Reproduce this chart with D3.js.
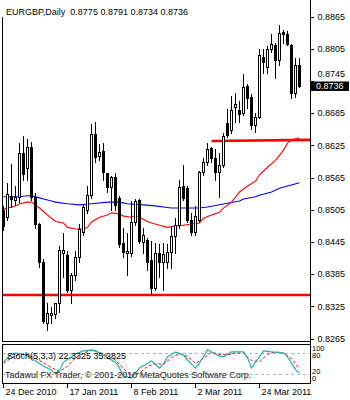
<!DOCTYPE html>
<html><head><meta charset="utf-8">
<script src="https://cdn.jsdelivr.net/npm/d3@7"></script>
<style>html,body{margin:0;padding:0;background:#fff;}svg{display:block;font-family:"Liberation Sans",Arial,sans-serif;}</style>
</head><body><svg id="c" width="350" height="400"></svg>
<script>
const symbolTitle = "EURGBP,Daily  0.8775 0.8791 0.8734 0.8736";
const opens = [0.8505,0.8492,0.8532,0.8524,0.8530,0.8612,0.8584,0.8623,0.8530,0.8479,
0.8409,0.8295,0.8310,0.8312,0.8332,0.8425,0.8422,0.8356,0.8384,0.8418,
0.8464,0.8505,0.8534,0.8647,0.8606,0.8616,0.8574,0.8548,0.8567,0.8528,
0.8444,0.8425,0.8425,0.8483,0.8524,0.8446,0.8449,0.8412,0.8360,0.8425,
0.8409,0.8409,0.8427,0.8457,0.8477,0.8550,0.8546,0.8487,0.8464,0.8487,
0.8576,0.8595,0.8621,0.8602,0.8576,0.8589,0.8667,0.8655,0.8697,0.8692,
0.8686,0.8736,0.8716,0.8664,0.8678,0.8791,0.8772,0.8805,0.8813,0.8785,
0.8837,0.8833,0.8813,0.8723,0.8775];
const highs = [0.8515,0.8558,0.8593,0.8552,0.8632,0.8645,0.8640,0.8634,0.8539,0.8483,
0.8416,0.8334,0.8327,0.8334,0.8440,0.8464,0.8431,0.8389,0.8431,0.8481,
0.8518,0.8552,0.8667,0.8671,0.8630,0.8632,0.8576,0.8571,0.8576,0.8534,
0.8474,0.8464,0.8524,0.8528,0.8528,0.8474,0.8455,0.8449,0.8446,0.8444,
0.8446,0.8444,0.8477,0.8492,0.8563,0.8591,0.8552,0.8502,0.8515,0.8580,
0.8604,0.8632,0.8625,0.8621,0.8614,0.8651,0.8695,0.8720,0.8725,0.8710,
0.8761,0.8742,0.8723,0.8688,0.8807,0.8807,0.8813,0.8835,0.8818,0.8852,
0.8843,0.8841,0.8817,0.8791,0.8791];
const lows = [0.8468,0.8487,0.8511,0.8515,0.8520,0.8561,0.8561,0.8524,0.8472,0.8399,
0.8295,0.8282,0.8295,0.8304,0.8315,0.8381,0.8352,0.8332,0.8375,0.8409,
0.8459,0.8500,0.8528,0.8595,0.8599,0.8561,0.8539,0.8505,0.8505,0.8436,
0.8418,0.8384,0.8420,0.8477,0.8444,0.8425,0.8394,0.8350,0.8356,0.8381,
0.8356,0.8397,0.8397,0.8425,0.8472,0.8524,0.8483,0.8459,0.8459,0.8483,
0.8571,0.8589,0.8595,0.8561,0.8530,0.8586,0.8641,0.8649,0.8669,0.8669,
0.8682,0.8695,0.8657,0.8651,0.8677,0.8761,0.8761,0.8800,0.8751,0.8776,
0.8817,0.8813,0.8714,0.8716,0.8734];
const closes = [0.8476,0.8535,0.8526,0.8530,0.8612,0.8572,0.8623,0.8530,0.8479,0.8409,
0.8299,0.8313,0.8313,0.8332,0.8431,0.8431,0.8356,0.8384,0.8418,0.8470,
0.8511,0.8534,0.8647,0.8604,0.8614,0.8576,0.8548,0.8567,0.8515,0.8442,
0.8427,0.8429,0.8483,0.8522,0.8448,0.8459,0.8409,0.8360,0.8425,0.8409,
0.8423,0.8427,0.8457,0.8477,0.8548,0.8528,0.8487,0.8464,0.8494,0.8576,
0.8595,0.8619,0.8602,0.8576,0.8589,0.8643,0.8645,0.8692,0.8703,0.8684,
0.8735,0.8714,0.8664,0.8678,0.8794,0.8781,0.8805,0.8815,0.8785,0.8835,
0.8833,0.8815,0.8723,0.8776,0.8736];

const redMaBars = [0,1,3,4,6,7,9,11,13,15,16,18,20,21,22,24,26,27,29,30,32,33,34,36,37,39,41,43,45,47,49,50,52,54,55,57,59,61,63,64,66,68,70,71,72,74];
const redMaValues = [0.8507,0.8509,0.8513,0.8517,0.8520,0.8520,0.8509,0.8496,0.8484,0.8481,0.8473,0.8470,0.8470,0.8473,0.8483,0.8492,0.8496,0.8500,0.8498,0.8494,0.8492,0.8496,0.8492,0.8484,0.8481,0.8477,0.8473,0.8475,0.8477,0.8479,0.8481,0.8490,0.8496,0.8501,0.8509,0.8520,0.8539,0.8550,0.8559,0.8571,0.8585,0.8598,0.8617,0.8630,0.8636,0.8640];
const blueMaBars = [0,4,6,7,9,10,12,13,16,19,22,26,29,31,35,38,40,42,49,51,54,56,59,60,63,64,67,69,71,74];
const blueMaValues = [0.8530,0.8530,0.8532,0.8532,0.8528,0.8526,0.8522,0.8520,0.8517,0.8515,0.8517,0.8520,0.8520,0.8517,0.8515,0.8513,0.8511,0.8509,0.8509,0.8511,0.8515,0.8518,0.8522,0.8526,0.8530,0.8533,0.8539,0.8546,0.8550,0.8556];

const supportLevel = 0.8347;
const trendBars = [52, 76.75];
const trendValues = [0.8634, 0.8636];

const stochKBars = [0,1,2,3,5,7,8,10,12,13,14,15,17,18,20,22,23,25,26,28,29,30,32,33,34,36,37,39,40,41,43,45,46,48,49,51,52,54,55,57,60,61,62,63,65,67,70,71,72,73,74];
const stochK = [54,66,77,80,77,66,57,43,31,20,31,54,69,77,86,89,86,74,66,54,37,14,9,23,37,51,57,37,49,69,83,74,60,37,51,89,83,71,69,83,83,66,37,54,86,83,80,69,51,32.5,22.3325];
const stochDBars = [0,2,4,6,8,10,12,14,16,18,20,22,24,26,28,30,32,34,36,38,40,42,44,46,48,50,52,54,56,58,60,62,64,66,68,70,72,74];
const stochD = [50,66,76,75,65,52,38,27,42,66,80,87,82,72,60,35,16,23,42,50,47,67,78,70,50,65,82,76,74,80,80,58,55,76,83,80,64,35.2825];
const stochLevels = [20, 80];
const stochLabels = ["100","80","20","0"];
const stochLabelValues = [100,80,20,0];
const stochTitle = "Stoch(5,3,3) 22.3325 35.2825";
const copyright = "Tadawul FX Trader, \u00a9 2001-2010 MetaQuotes Software Corp.";

const priceTicks = [0.8265,0.8325,0.8385,0.8445,0.8505,0.8565,0.8625,0.8685,0.8745,0.8805,0.8865];
const dateBars = [0,16,32,48,64];
const dateLabels = ["24 Dec 2010","17 Jan 2011","8 Feb 2011","2 Mar 2011","24 Mar 2011"];

const svg = d3.select('#c');
const x = d3.scaleLinear().domain([0,74]).range([3.5,299.5]);
const y = d3.scaleLinear().domain([0.8265,0.8865]).range([339,17]);
const ys = d3.scaleLinear().domain([0,100]).range([381,346]);
const snap = v => Math.round(v) + 0.5;

const defs = svg.append('defs');
defs.append('clipPath').attr('id','mainClip').append('rect').attr('x',3).attr('y',0).attr('width',307).attr('height',341);
defs.append('clipPath').attr('id','subClip').append('rect').attr('x',3).attr('y',345).attr('width',307).attr('height',38);

// frame
const frame = svg.append('g').attr('stroke','#000').attr('stroke-width',1).attr('shape-rendering','crispEdges');
frame.append('line').attr('x1',2.5).attr('x2',2.5).attr('y1',17).attr('y2',341.5);
frame.append('line').attr('x1',2.5).attr('x2',2.5).attr('y1',344.5).attr('y2',383.5);
frame.append('line').attr('x1',310.5).attr('x2',310.5).attr('y1',0).attr('y2',383.5);
frame.append('line').attr('x1',2).attr('x2',311).attr('y1',341.5).attr('y2',341.5);
frame.append('line').attr('x1',2).attr('x2',311).attr('y1',344.5).attr('y2',344.5);
frame.append('line').attr('x1',2).attr('x2',311).attr('y1',383.5).attr('y2',383.5);

const main = svg.append('g').attr('clip-path','url(#mainClip)');
const idx = d3.range(opens.length);

// support / trend lines
main.append('line').attr('x1',3).attr('x2',310).attr('y1',y(supportLevel)).attr('y2',y(supportLevel))
  .attr('stroke','#ff0000').attr('stroke-width',2.6);
main.append('line').attr('x1',x(trendBars[0])).attr('x2',x(trendBars[1])).attr('y1',y(trendValues[0])).attr('y2',y(trendValues[1]))
  .attr('stroke','#ff0000').attr('stroke-width',2.6);

// moving averages
const maLine = d3.line().x(d=>x(d[0])).y(d=>y(d[1]));
main.append('path').datum(blueMaBars.map((b,i)=>[b,blueMaValues[i]])).attr('d',maLine)
  .attr('fill','none').attr('stroke','#0000ff').attr('stroke-width',1.1);
main.append('path').datum(redMaBars.map((b,i)=>[b,redMaValues[i]])).attr('d',maLine)
  .attr('fill','none').attr('stroke','#ff0000').attr('stroke-width',1.1);

// candles
const cg = main.append('g').attr('shape-rendering','crispEdges');
cg.selectAll('line.w').data(idx).join('line').attr('class','w')
  .attr('x1',i=>x(i)).attr('x2',i=>x(i))
  .attr('y1',i=>snap(y(highs[i]))).attr('y2',i=>snap(y(lows[i])))
  .attr('stroke','#000');
cg.selectAll('rect.b').data(idx).join('rect').attr('class','b')
  .attr('x',i=>x(i)-1).attr('width',2)
  .attr('y',i=>snap(y(Math.max(opens[i],closes[i]))))
  .attr('height',i=>Math.max(0, snap(y(Math.min(opens[i],closes[i]))) - snap(y(Math.max(opens[i],closes[i])))))
  .attr('fill',i=>closes[i]>=opens[i]?'#fff':'#000')
  .attr('stroke','#000');

// price axis
const last = closes[closes.length-1];
const ya = svg.append('g').attr('transform','translate(310.5,0)')
  .call(d3.axisRight(y).tickValues(priceTicks).tickSize(3).tickPadding(4).offset(0).tickFormat(d3.format('.4f')));
ya.select('.domain').remove();
ya.selectAll('line').attr('stroke','#000').attr('shape-rendering','crispEdges');
ya.selectAll('text').attr('font-size',9).attr('font-family','"Liberation Sans",Arial,sans-serif').attr('fill','#000');
// the tick label that sits under the current-price box is lifted just above it
ya.selectAll('.tick').filter(d => Math.abs(y(d) - y(last)) < 9)
  .select('text').attr('dy', (Math.min(0, (y(last) - 4.7) - 4 - y(0.8745)) - 0.3) + 'px');

// current price box
svg.append('rect').attr('x',311).attr('y',y(last)-4.7).attr('width',38).attr('height',9.4).attr('fill','#000');
svg.append('text').attr('x',316).attr('y',y(last)).attr('dy','0.33em').attr('font-size',9).attr('fill','#fff')
  .text(d3.format('.4f')(last));

// title
svg.append('text').attr('x',6).attr('y',15).attr('font-size',9).attr('fill','#000').attr('xml:space','preserve').style('white-space','pre').text(symbolTitle);

// stochastic
const sub = svg.append('g').attr('clip-path','url(#subClip)');
sub.selectAll('line.lv').data(stochLevels).join('line').attr('class','lv')
  .attr('x1',3).attr('x2',310).attr('y1',d=>snap(ys(d))).attr('y2',d=>snap(ys(d)))
  .attr('stroke','#b4b4b4').attr('stroke-dasharray','3,3').attr('shape-rendering','crispEdges');
const sLine = d3.line().x(d=>x(d[0])).y(d=>ys(d[1]));
sub.append('path').datum(stochDBars.map((b,i)=>[b,stochD[i]])).attr('d',sLine)
  .attr('fill','none').attr('stroke','#ff0000').attr('stroke-width',1).attr('stroke-dasharray','3,2');
sub.append('path').datum(stochKBars.map((b,i)=>[b,stochK[i]])).attr('d',sLine)
  .attr('fill','none').attr('stroke','#20b2aa').attr('stroke-width',1.2);
svg.append('text').attr('x',7).attr('y',359).attr('font-size',9).attr('fill','#000').text(stochTitle);
svg.append('text').attr('x',5).attr('y',378).attr('font-size',9).attr('fill','#222').text(copyright);

// stochastic scale labels (nudged apart so they stay readable in the short panel)
const stochLabelY = {100: 348.5, 80: 356, 20: 371.5, 0: 379};
const sa = svg.append('g').attr('transform','translate(312,0)');
sa.selectAll('text').data(stochLabelValues).join('text')
  .attr('x',0).attr('y',d=>stochLabelY[d]).attr('dy','0.33em')
  .attr('font-size',7.5).attr('fill','#000').text((d,i)=>stochLabels[i]);

// date axis
const xa = svg.append('g').attr('transform','translate(0,383.5)')
  .call(d3.axisBottom(x).tickValues(dateBars).tickSize(4).offset(0).tickFormat((d,i)=>dateLabels[i]));
xa.select('.domain').remove();
xa.selectAll('line').attr('stroke','#000').attr('shape-rendering','crispEdges');
xa.selectAll('text').attr('text-anchor','start').attr('dx',2).attr('y',5).attr('dy','0.71em')
  .attr('font-size',9).attr('font-family','"Liberation Sans",Arial,sans-serif').attr('fill','#000');
</script></body></html>
